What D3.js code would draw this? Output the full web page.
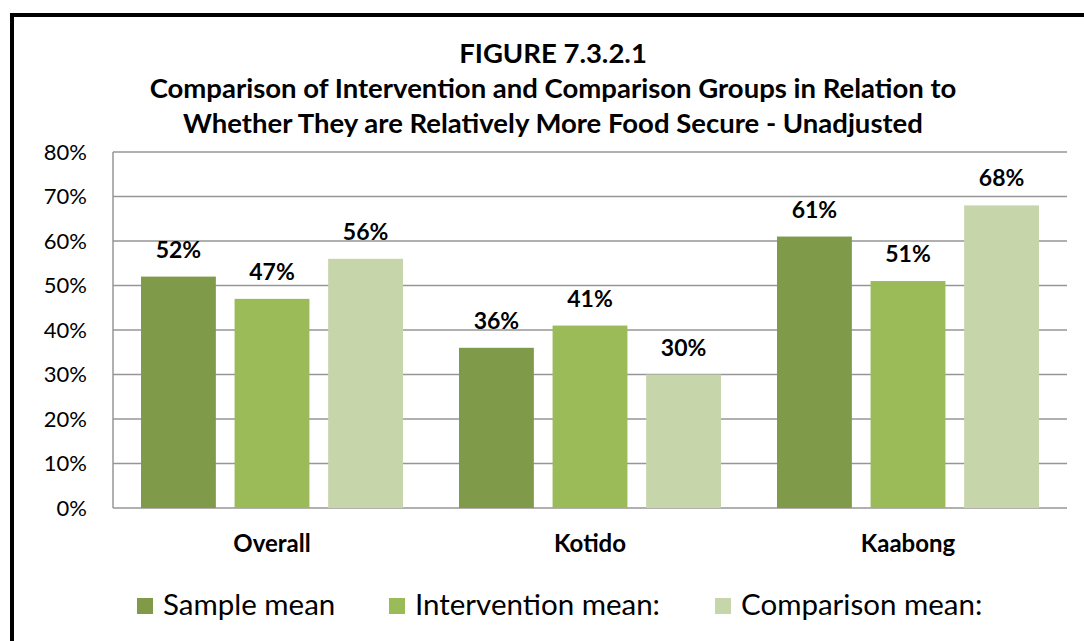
<!DOCTYPE html>
<html><head><meta charset="utf-8">
<script src="https://cdn.jsdelivr.net/npm/d3@7"></script>
<style>body{margin:0;background:#fff}svg{display:block}text{font-family:Lato,"Open Sans",sans-serif}</style>
</head><body>
<svg id="c" width="1084" height="641"></svg>
<script>
const categories = ["Overall", "Kotido", "Kaabong"];
const seriesNames = ["Sample mean", "Intervention mean:", "Comparison mean:"];
const sampleMean = [52, 36, 61];
const interventionMean = [47, 41, 51];
const comparisonMean = [56, 30, 68];
const yTicks = [0, 10, 20, 30, 40, 50, 60, 70, 80];
const titleLines = ["FIGURE 7.3.2.1",
  "Comparison of Intervention and Comparison Groups in Relation to",
  "Whether They are Relatively More Food Secure - Unadjusted"];
const colors = ["#7F9A48", "#9BBB59", "#C6D6AA"];

const svg = d3.select("#c");
svg.append("rect").attr("x", 12).attr("y", 15).attr("width", 1100).attr("height", 700)
  .attr("fill", "none").attr("stroke", "#000").attr("stroke-width", 4);

const m = {l: 113, r: 1067, t: 152, b: 508};
const y = d3.scaleLinear().domain([0, 80]).range([m.b, m.t]);
const x0 = d3.scaleBand().domain(categories).range([m.l, m.r]).padding(0);
const inner = 28;
const x1 = d3.scaleBand().domain(d3.range(3)).range([inner, x0.bandwidth() - inner]).paddingInner(0.2).paddingOuter(0);

svg.append("g").selectAll("line").data(yTicks).join("line")
  .attr("x1", m.l).attr("x2", m.r).attr("y1", d => y(d)).attr("y2", d => y(d))
  .attr("stroke", "#969696").attr("stroke-width", 1.5);
svg.append("line").attr("x1", m.l).attr("x2", m.l).attr("y1", m.t).attr("y2", m.b)
  .attr("stroke", "#969696").attr("stroke-width", 1.5);

const yAxis = d3.axisLeft(y).tickValues(yTicks).tickFormat(d => d + "%").tickSize(0).tickPadding(26);
const ya = svg.append("g").attr("transform", `translate(${m.l},0)`).call(yAxis);
ya.select(".domain").remove();
ya.selectAll("text").attr("font-size", 22).attr("fill", "#000").style("font-family", "Lato");

const series = [sampleMean, interventionMean, comparisonMean];
const rows = categories.map((c, i) => ({c, vals: series.map(s => s[i])}));
const g = svg.append("g").selectAll("g").data(rows).join("g")
  .attr("transform", d => `translate(${x0(d.c)},0)`);
g.selectAll("rect").data(d => d.vals.map((v, k) => ({v, k}))).join("rect")
  .attr("x", d => x1(d.k)).attr("width", x1.bandwidth())
  .attr("y", d => y(d.v)).attr("height", d => y(0) - y(d.v))
  .attr("fill", d => colors[d.k]);
g.selectAll("text").data(d => d.vals.map((v, k) => ({v, k}))).join("text")
  .attr("x", d => x1(d.k) + x1.bandwidth() / 2).attr("y", d => y(d.v) - 19)
  .attr("text-anchor", "middle").attr("font-size", 23).attr("font-weight", "bold")
  .text(d => d.v + "%");

const xAxis = d3.axisBottom(x0).tickSize(0).tickPadding(0);
const xa = svg.append("g").attr("transform", `translate(0,${m.b})`).call(xAxis);
xa.select(".domain").remove();
xa.selectAll("text").attr("dy", null).attr("y", 44).attr("font-size", 24).attr("font-weight", "bold").attr("fill", "#000").style("font-family", "Lato");

svg.append("g").selectAll("text").data(titleLines).join("text")
  .attr("x", 553).attr("y", (d, i) => [63, 98, 133][i])
  .attr("text-anchor", "middle").attr("font-size", 27.5).attr("font-weight", "bold").text(d => d);

const legX = [137, 389, 715];
const lg = svg.append("g").selectAll("g").data(seriesNames).join("g")
  .attr("transform", (d, i) => `translate(${legX[i]},598)`);
lg.append("rect").attr("width", 16).attr("height", 16).attr("fill", (d, i) => colors[i]);
lg.append("text").attr("x", 26).attr("y", 17).attr("font-size", 29.5).text(d => d);
</script>
</body></html>
